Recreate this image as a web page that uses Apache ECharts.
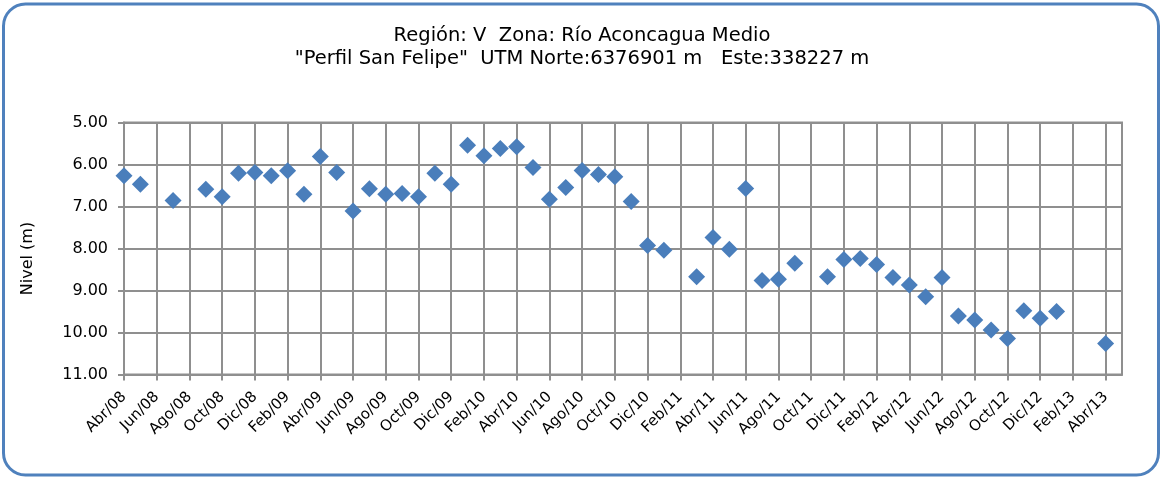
<!DOCTYPE html>
<html>
<head>
<meta charset="utf-8">
<script src="https://cdn.jsdelivr.net/npm/echarts@6/dist/echarts.min.js"></script>
<style>
  html, body { margin: 0; padding: 0; background: #fff; }
  #chart { width: 1164px; height: 479px; }
</style>
</head>
<body>
<div id="chart"></div>
<script>
// Monthly categories, Abr/08 through May/13
const months = ['Abr/08','May/08','Jun/08','Jul/08','Ago/08','Sep/08','Oct/08','Nov/08','Dic/08',
  'Ene/09','Feb/09','Mar/09','Abr/09','May/09','Jun/09','Jul/09','Ago/09','Sep/09','Oct/09','Nov/09','Dic/09',
  'Ene/10','Feb/10','Mar/10','Abr/10','May/10','Jun/10','Jul/10','Ago/10','Sep/10','Oct/10','Nov/10','Dic/10',
  'Ene/11','Feb/11','Mar/11','Abr/11','May/11','Jun/11','Jul/11','Ago/11','Sep/11','Oct/11','Nov/11','Dic/11',
  'Ene/12','Feb/12','Mar/12','Abr/12','May/12','Jun/12','Jul/12','Ago/12','Sep/12','Oct/12','Nov/12','Dic/12',
  'Ene/13','Feb/13','Mar/13','Abr/13','May/13'];

// Water table depth (m); null = no measurement that month
const nivel = [6.27, 6.47, null, 6.86, null, 6.59, 6.77, 6.21, 6.19,
  6.27, 6.15, 6.71, 5.81, 6.19, 7.11, 6.58, 6.71, 6.69, 6.77, 6.21, 6.47,
  5.54, 5.79, 5.62, 5.58, 6.07, 6.83, 6.55, 6.14, 6.24, 6.29, 6.88, 7.93,
  8.04, null, 8.67, 7.74, 8.02, 6.57, 8.76, 8.73, 8.35, null, 8.67, 8.26,
  8.24, 8.38, 8.69, 8.87, 9.15, 8.69, 9.61, 9.70, 9.94, 10.14, 9.48, 9.66,
  9.50, null, null, 10.26, null];

const yTicks = { min: 5, max: 11, step: 1 };

const titleLines = ['Región: V  Zona: Río Aconcagua Medio',
  '"Perfil San Felipe"  UTM Norte:6376901 m   Este:338227 m'];

const font = 'DejaVu Sans, Verdana, sans-serif';
const gridColor = '#8f8f8f';

const chart = echarts.init(document.getElementById('chart'), null, { renderer: 'canvas' });
chart.setOption({
  animation: false,
  backgroundColor: '#fff',
  graphic: [{
    type: 'rect',
    shape: { x: 3.5, y: 4, width: 1155, height: 471, r: 22 },
    style: { fill: 'none', stroke: '#4f81bd', lineWidth: 3 },
    z: 100
  }],
  title: {
    text: titleLines.join('\n'),
    left: 'center',
    top: 19,
    textStyle: { fontFamily: font, fontSize: 19.5, fontWeight: 'normal', color: '#000', lineHeight: 23 }
  },
  grid: { left: 124, right: 42, top: 122.5, bottom: 104.5, show: true, borderColor: gridColor, borderWidth: 2 },
  xAxis: {
    type: 'category',
    data: months,
    boundaryGap: false,
    axisLine: { lineStyle: { color: gridColor, width: 2 } },
    axisTick: { show: true, interval: 1, length: 6, lineStyle: { color: gridColor, width: 2 } },
    axisLabel: { interval: 1, rotate: 45, fontFamily: font, fontSize: 15, color: '#000', margin: 20 },
    splitLine: { show: true, interval: 1, lineStyle: { color: gridColor, width: 2 } }
  },
  yAxis: {
    type: 'value',
    inverse: true,
    min: yTicks.min,
    max: yTicks.max,
    interval: yTicks.step,
    name: 'Nivel (m)',
    nameLocation: 'middle',
    nameGap: 88,
    nameRotate: 90,
    nameTextStyle: { fontFamily: font, fontSize: 16, color: '#000', padding: [0, 20, 0, 0] },
    axisLine: { show: true, lineStyle: { color: gridColor, width: 2 } },
    axisTick: { show: true, length: 6, lineStyle: { color: gridColor, width: 2 } },
    axisLabel: { fontFamily: font, fontSize: 16, color: '#000', margin: 16,
      formatter: v => v.toFixed(2) },
    splitLine: { show: true, lineStyle: { color: gridColor, width: 2 } }
  },
  series: [{
    type: 'scatter',
    data: nivel,
    symbol: 'diamond',
    symbolSize: 17,
    itemStyle: { color: '#4a7ebb', opacity: 1 }
  }]
});
</script>
</body>
</html>
